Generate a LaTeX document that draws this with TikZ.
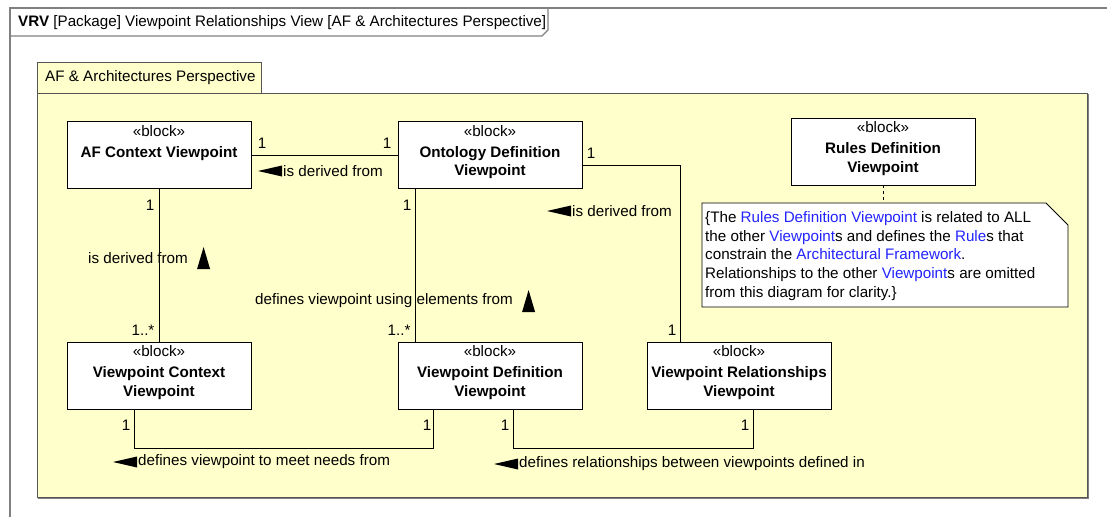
\documentclass[tikz,border=0pt]{standalone}
\usepackage{fontspec}
\setmainfont{Liberation Sans}
\definecolor{pkgyellow}{HTML}{FFFFCC}
\definecolor{framegray}{HTML}{808080}
\definecolor{pkgborder}{HTML}{555555}
\definecolor{linkblue}{HTML}{2222FF}
\newcommand{\fnt}{\fontsize{15.2}{18.8}\selectfont}
\newcommand{\bl}[1]{\textcolor{linkblue}{#1}}
\tikzset{
  blockbox/.style={draw=black, fill=white, line width=0.8pt, minimum width=184pt, minimum height=67pt, inner sep=0pt},
  btext/.style={anchor=north, align=center, inner sep=0pt, font=\fnt},
  conn/.style={draw=black, line width=0.7pt},
  mult/.style={inner sep=0pt, font=\fnt},
  lbl/.style={inner sep=0pt, anchor=west, font=\fnt},
  tri/.style={fill=black},
}
\begin{document}
\begin{tikzpicture}[x=1pt, y=-1pt]
\useasboundingbox (0,0) rectangle (1107,517);
% outer frame
\draw[framegray, line width=1.2pt] (10,517) -- (10,8) -- (1107,8);
\draw[framegray, line width=1.2pt] (10,36) -- (542,36) -- (548,30) -- (548,8);
\node[anchor=west, inner sep=0pt, font=\fnt] (title) at (18,22.5) {\textbf{VRV} [Package] Viewpoint Relationships View [AF \& Architectures Perspective]};
% package
\draw[pkgborder, fill=pkgyellow, line width=1pt] (37,62) rectangle (261,93);
\draw[pkgborder, fill=pkgyellow, line width=1pt] (37,93) rectangle (1087,497);
\draw[framegray, line width=1pt] (1088.5,94) -- (1088.5,498.5) -- (38,498.5);
\node[anchor=west, inner sep=0pt, font=\fnt] (pkgtitle) at (45,78) {AF \& Architectures Perspective};
% blocks
\node[blockbox] (af) at (159,155) {};
\node[btext] (aft) at ([yshift=-4pt]af.north) {«block»\\[2pt]\textbf{AF Context Viewpoint}};
\node[blockbox] (ont) at (490,155) {};
\node[btext] (ontt) at ([yshift=-4pt]ont.north) {«block»\\[2pt]\textbf{Ontology Definition}\\\textbf{Viewpoint}};
\node[blockbox] (rules) at (883,151.5) {};
\node[btext] (rulest) at ([yshift=-4pt]rules.north) {«block»\\[2pt]\textbf{Rules Definition}\\\textbf{Viewpoint}};
\node[blockbox] (vcv) at (159,375.5) {};
\node[btext] (vcvt) at ([yshift=-4pt]vcv.north) {«block»\\[2pt]\textbf{Viewpoint Context}\\\textbf{Viewpoint}};
\node[blockbox] (vdv) at (490,375.5) {};
\node[btext] (vdvt) at ([yshift=-4pt]vdv.north) {«block»\\[2pt]\textbf{Viewpoint Definition}\\\textbf{Viewpoint}};
\node[blockbox] (vrv) at (739,375.5) {};
\node[btext] (vrvt) at ([yshift=-4pt]vrv.north) {«block»\\[2pt]\textbf{Viewpoint Relationships}\\\textbf{Viewpoint}};
% note
\draw[black, fill=white, line width=0.8pt] (702,203) -- (1046,203) -- (1068,225) -- (1068,307) -- (702,307) -- cycle;
\coordinate (notetop) at (883,203);
\node[anchor=north west, align=left, inner sep=0pt, font=\fnt] (notet) at (705,211) {\{The \bl{Rules Definition Viewpoint} is related to ALL\\the other \bl{Viewpoint}s and defines the \bl{Rule}s that\\constrain the \bl{Architectural Framework}.\\Relationships to the other \bl{Viewpoint}s are omitted\\from this diagram for clarity.\}};
\draw[black, dashed, line width=0.7pt] (rules) -- (notetop);
% connectors
\draw[conn] (af) -- (ont);
\draw[conn] (af) -- (vcv);
\draw[conn] ([xshift=-75pt]ont.south) -- ([xshift=-75pt]vdv.north);
\draw[conn] ([yshift=-10pt]ont.east) -| ([xshift=-59pt]vrv.north);
\draw[conn] ([xshift=-25pt]vcv.south) -- ++(0,39) -| ([xshift=-57pt]vdv.south);
\draw[conn] ([xshift=23pt]vdv.south) -- ++(0,39) -| ([xshift=14pt]vrv.south);
% multiplicities
\node[mult] (m1) at (262,143) {1};
\node[mult] (m2) at (387,143) {1};
\node[mult] (m3) at (150,205) {1};
\node[mult] (m4) at (143,330) {1..*};
\node[mult] (m5) at (407,205) {1};
\node[mult] (m6) at (399,330) {1..*};
\node[mult] (m7) at (591,153) {1};
\node[mult] (m8) at (672,330) {1};
\node[mult] (m9) at (126,425) {1};
\node[mult] (m10) at (427,425) {1};
\node[mult] (m11) at (505,425) {1};
\node[mult] (m12) at (745,425) {1};
% labels with direction triangles
\node[lbl] (l1) at (283,171) {is derived from};
\fill[tri] ([xshift=-1pt]l1.west) ++(0,-5.5) -- ++(0,11) -- ++(-24,-5.5) -- cycle;
\node[lbl] (l2) at (88,258) {is derived from};
\fill[tri] ([xshift=9pt]l2.east) ++(0,11) -- ++(13,0) -- ++(-6.5,-22) -- cycle;
\node[lbl] (l3) at (255,301) {defines viewpoint using elements from};
\fill[tri] ([xshift=9pt]l3.east) ++(0,11) -- ++(13,0) -- ++(-6.5,-22) -- cycle;
\node[lbl] (l4) at (572,211) {is derived from};
\fill[tri] ([xshift=-1pt]l4.west) ++(0,-5.5) -- ++(0,11) -- ++(-24,-5.5) -- cycle;
\node[lbl] (l5) at (138,462) {defines viewpoint to meet needs from};
\fill[tri] ([xshift=-1pt]l5.west) ++(0,-5.5) -- ++(0,11) -- ++(-24,-5.5) -- cycle;
\node[lbl] (l6) at (519,464) {defines relationships between viewpoints defined in};
\fill[tri] ([xshift=-1pt]l6.west) ++(0,-5.5) -- ++(0,11) -- ++(-24,-5.5) -- cycle;
\end{tikzpicture}
\end{document}
